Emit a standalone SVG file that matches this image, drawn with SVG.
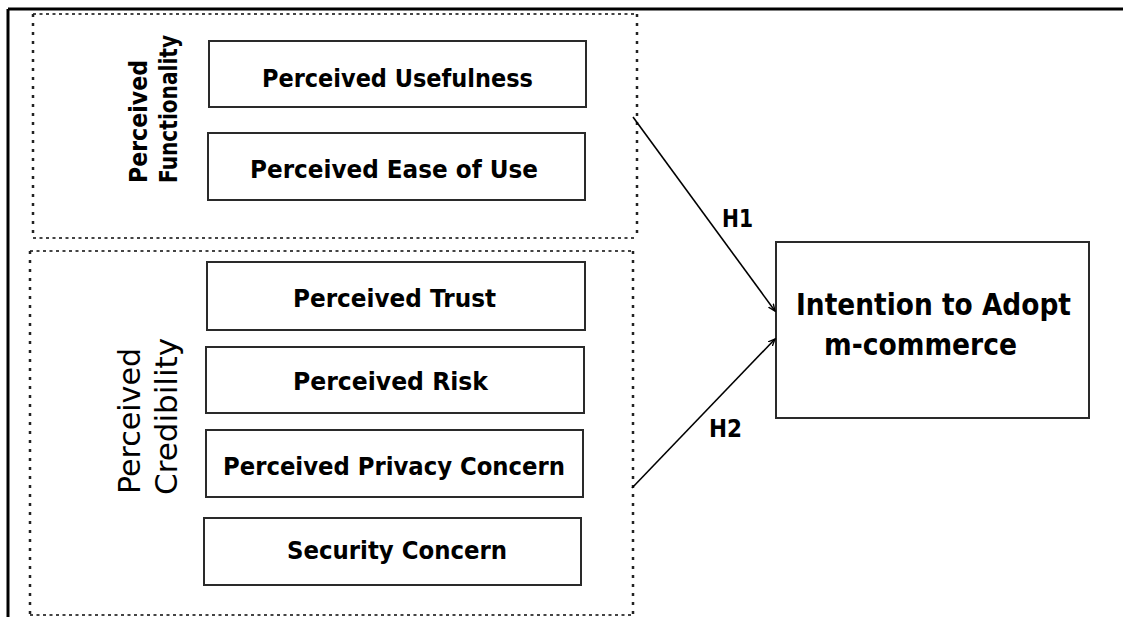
<svg xmlns="http://www.w3.org/2000/svg" width="1123" height="617" viewBox="0 0 1123 617">
<style>
.box{fill:#fff;stroke:#2a2a2a;stroke-width:2}
.dot{fill:none;stroke:#444;stroke-width:2;stroke-dasharray:3 3.5}
.dotv{fill:none;stroke:#222;stroke-width:2.5;stroke-dasharray:3 6}
.t{font-family:"DejaVu Sans","Liberation Sans",sans-serif;font-weight:bold;fill:#000}
.r{font-family:"DejaVu Sans","Liberation Sans",sans-serif;fill:#000}
.conn{stroke:#000;stroke-width:1.6;fill:none}
</style>
<defs>
<marker id="arr" markerWidth="8" markerHeight="8" refX="7" refY="4" orient="auto" markerUnits="userSpaceOnUse">
<path d="M0,1 L7,4 L0,7" fill="none" stroke="#000" stroke-width="1.4"/>
</marker>
</defs>
<rect width="1123" height="617" fill="#fff"/>
<g id="frame">
<line x1="8" y1="9" x2="1123" y2="9" stroke="#000" stroke-width="3"/>
<line x1="8" y1="9" x2="8" y2="617" stroke="#000" stroke-width="3"/>
</g>
<g id="group-functionality">
<line class="dot" x1="33" y1="14" x2="637" y2="14"/>
<line class="dot" x1="33" y1="238" x2="637" y2="238"/>
<line class="dotv" x1="33" y1="14" x2="33" y2="238"/>
<line class="dotv" x1="637" y1="14" x2="637" y2="238"/>
<text class="t" font-size="24" transform="translate(147,183) rotate(-90)" textLength="123" lengthAdjust="spacingAndGlyphs">Perceived</text>
<text class="t" font-size="24" transform="translate(177,183) rotate(-90)" textLength="148" lengthAdjust="spacingAndGlyphs">Functionality</text>
</g>
<g id="group-credibility">
<line class="dot" x1="30" y1="251" x2="633" y2="251"/>
<line class="dot" x1="30" y1="615" x2="633" y2="615"/>
<line class="dotv" x1="30" y1="251" x2="30" y2="615"/>
<line class="dotv" x1="633" y1="251" x2="633" y2="615"/>
<text class="r" font-size="31" transform="translate(140,494) rotate(-90)" textLength="146" lengthAdjust="spacingAndGlyphs">Perceived</text>
<text class="r" font-size="31" transform="translate(177,495) rotate(-90)" textLength="157" lengthAdjust="spacingAndGlyphs">Credibility</text>
</g>
<g id="node-usefulness">
<rect class="box" x="209" y="41" width="377" height="66"/>
<text class="t" font-size="24" x="262" y="87" textLength="271" lengthAdjust="spacingAndGlyphs">Perceived Usefulness</text>
</g>
<g id="node-ease">
<rect class="box" x="208" y="133" width="377" height="67"/>
<text class="t" font-size="24" x="250" y="178" textLength="288" lengthAdjust="spacingAndGlyphs">Perceived Ease of Use</text>
</g>
<g id="node-trust">
<rect class="box" x="207" y="262" width="378" height="68"/>
<text class="t" font-size="24" x="293" y="307" textLength="203" lengthAdjust="spacingAndGlyphs">Perceived Trust</text>
</g>
<g id="node-risk">
<rect class="box" x="206" y="347" width="378" height="66"/>
<text class="t" font-size="24" x="293" y="390" textLength="195" lengthAdjust="spacingAndGlyphs">Perceived Risk</text>
</g>
<g id="node-privacy">
<rect class="box" x="206" y="430" width="377" height="67"/>
<text class="t" font-size="24" x="223" y="475" textLength="342" lengthAdjust="spacingAndGlyphs">Perceived Privacy Concern</text>
</g>
<g id="node-security">
<rect class="box" x="204" y="518" width="377" height="67"/>
<text class="t" font-size="24" x="287" y="559" textLength="220" lengthAdjust="spacingAndGlyphs">Security Concern</text>
</g>
<g id="node-intention">
<rect class="box" x="776" y="242" width="313" height="176"/>
<text class="t" font-size="30" x="796" y="315" textLength="275" lengthAdjust="spacingAndGlyphs">Intention to Adopt</text>
<text class="t" font-size="30" x="824" y="355" textLength="193" lengthAdjust="spacingAndGlyphs">m-commerce</text>
</g>
<g id="connectors">
<line class="conn" x1="633" y1="117" x2="775" y2="311" marker-end="url(#arr)"/>
<line class="conn" x1="632" y1="488" x2="775" y2="339" marker-end="url(#arr)"/>
<text class="t" font-size="24" x="722" y="227" textLength="31" lengthAdjust="spacingAndGlyphs">H1</text>
<text class="t" font-size="24" x="709" y="437" textLength="33" lengthAdjust="spacingAndGlyphs">H2</text>
</g>
</svg>
